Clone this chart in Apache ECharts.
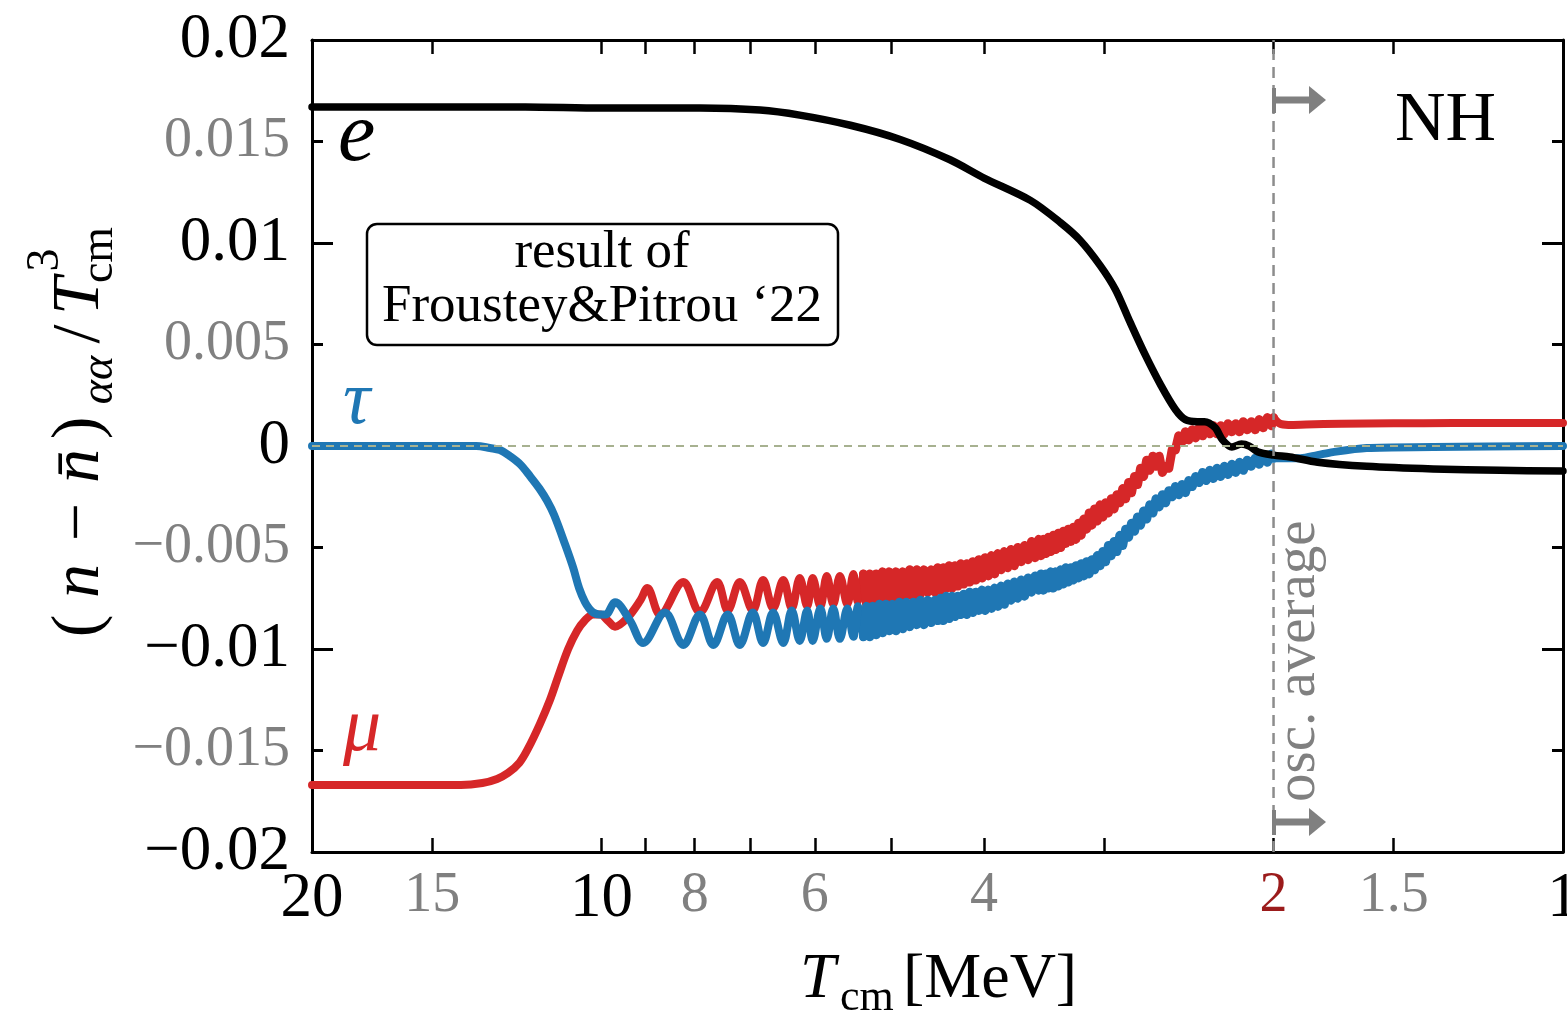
<!DOCTYPE html>
<html>
<head>
<meta charset="utf-8">
<script src="https://cdn.jsdelivr.net/npm/echarts@6/dist/echarts.min.js"></script>
<style>html,body{margin:0;padding:0;background:#fff;overflow:hidden;}#c{width:1567px;height:1021px;}</style>
</head>
<body>
<div id="c"></div>
<script>
// ---------------- data ----------------
const xTickValues = [20, 15, 10, 9, 8, 7, 6, 5, 4, 3, 2, 1.5, 1];
const xTickLabels = [20, 15, 10, 8, 6, 4, 2, 1.5, 1];
const xMajorLabels = [20, 10, 1];
const xRedLabels = [2];
const yTickLabels = [-0.02, -0.015, -0.01, -0.005, 0, 0.005, 0.01, 0.015, 0.02];

// electron flavour (black)
const eT = [20, 15, 12, 10, 7.9, 6.84, 6.22, 5.51, 4.89, 4.34, 4.0, 3.58, 3.33, 3.18, 3.03, 2.92, 2.82, 2.72, 2.62, 2.53, 2.47, 2.40, 2.36, 2.30, 2.26, 2.21, 2.16, 2.12, 2.075, 2.0, 1.923, 1.80, 1.60, 1.365, 1.163, 1.0];
const eV = [0.0167, 0.0167, 0.0167, 0.01665, 0.01665, 0.01655, 0.0163, 0.0158, 0.0151, 0.0141, 0.0132, 0.0121, 0.0110, 0.01015, 0.0089, 0.0077, 0.0061, 0.0045, 0.0030, 0.0018, 0.0013, 0.0012, 0.0012, 0.0009, 0.0003, -0.00005, 0.0001, 0.0, -0.0003, -0.00045, -0.00054, -0.0008, -0.001, -0.00113, -0.0012, -0.00123];

// shared temperature grid of the fast-oscillating stretch
const oscT = [5.34, 5.30, 5.26, 5.22, 5.18, 5.14, 5.10, 5.06, 5.02, 4.98, 4.94, 4.90, 4.86, 4.82, 4.78, 4.74, 4.70, 4.66, 4.62, 4.58, 4.54, 4.50,
  4.47, 4.44, 4.41, 4.38, 4.35, 4.32, 4.29, 4.26, 4.23, 4.20, 4.17, 4.14, 4.11, 4.08, 4.05, 4.02, 3.99, 3.96, 3.93, 3.90, 3.87, 3.84, 3.81, 3.78, 3.75, 3.72, 3.69, 3.66, 3.63, 3.60, 3.57, 3.54, 3.51,
  3.49, 3.47, 3.45, 3.43, 3.41, 3.39, 3.37, 3.35, 3.33, 3.31, 3.29, 3.27, 3.25, 3.23, 3.21, 3.19, 3.17, 3.15, 3.13, 3.11, 3.09, 3.07, 3.05, 3.03, 3.01, 2.99, 2.97, 2.95, 2.93, 2.91, 2.89, 2.87, 2.85, 2.83, 2.81, 2.79, 2.77, 2.75, 2.73, 2.71, 2.69, 2.67, 2.65, 2.63, 2.61,
  2.59, 2.57, 2.55, 2.53, 2.51, 2.49, 2.47, 2.45, 2.43, 2.41, 2.39, 2.37, 2.35, 2.33, 2.31, 2.29, 2.27, 2.25, 2.23, 2.21, 2.19, 2.17, 2.15, 2.13, 2.11, 2.09, 2.07, 2.05, 2.03, 2.01, 2.0];

// tau flavour (blue)
const tauEarlyT = [20, 17, 15, 14, 13.5, 13.06, 12.75, 12.45, 12.15, 11.86, 11.6, 11.39, 11.2, 10.9, 10.7, 10.55, 10.4, 10.3, 10.2, 10.05, 9.9, 9.68, 9.34, 9.05, 8.59, 8.22, 7.90, 7.65, 7.39, 7.18, 6.96, 6.79, 6.63, 6.47, 6.34, 6.22, 6.11, 6.03, 5.92, 5.83, 5.74, 5.65, 5.55, 5.47, 5.41, 5.34];
const tauEarlyV = [0, 0, 0, 0, 0, -0.0001, -0.0002, -0.0005, -0.0009, -0.0015, -0.0021, -0.0027, -0.0034, -0.0049, -0.0060, -0.0070, -0.0077, -0.0080, -0.0082, -0.0083, -0.0083, -0.0077, -0.0086, -0.0097, -0.0082, -0.0098, -0.0083, -0.0098, -0.0083, -0.0098, -0.0082, -0.0097, -0.0082, -0.0097, -0.0081, -0.0096, -0.0081, -0.0096, -0.0080, -0.0095, -0.0080, -0.0095, -0.0080, -0.0094, -0.0079, -0.0094];
const tauOscV = [-0.0094, -0.0079, -0.0094, -0.0079, -0.0093, -0.0078, -0.0092, -0.0078, -0.0091, -0.0078, -0.0091, -0.0077, -0.0090, -0.0077, -0.0089, -0.0077, -0.0088, -0.0076, -0.0088, -0.0076, -0.0087, -0.0076,
  -0.0086, -0.0075, -0.0086, -0.0074, -0.0085, -0.0074, -0.0084, -0.0074, -0.0083, -0.0073, -0.0083, -0.0072, -0.0082, -0.0072, -0.0081, -0.0071, -0.0081, -0.0071, -0.0080, -0.0070, -0.0079, -0.0069, -0.0078, -0.0068, -0.0076, -0.0067, -0.0075, -0.0066, -0.0074, -0.0065, -0.0072, -0.0064, -0.0071,
  -0.0063, -0.0071, -0.0063, -0.0070, -0.0062, -0.0070, -0.0062, -0.0069, -0.0061, -0.0068, -0.0060, -0.0067, -0.0060, -0.0066, -0.0059, -0.0065, -0.0058, -0.0064, -0.0057, -0.0063, -0.0056, -0.0061, -0.0054, -0.0059, -0.0052, -0.0057, -0.0049, -0.0054, -0.0047, -0.0052, -0.0044, -0.0049, -0.0041, -0.0045, -0.0038, -0.0042, -0.0035, -0.0039, -0.0032, -0.0036, -0.0029, -0.0033, -0.0026, -0.0030, -0.0024,
  -0.0028, -0.0022, -0.0025, -0.0020, -0.0024, -0.0019, -0.0023, -0.0017, -0.0020, -0.0015, -0.0018, -0.0013, -0.0017, -0.0012, -0.0016, -0.0011, -0.0015, -0.0010, -0.0014, -0.0009, -0.0013, -0.0008, -0.0012, -0.0007, -0.0010, -0.0006, -0.0009, -0.0005, -0.0008, -0.0004, -0.0006];
const tauLateT = [2.0, 1.95, 1.876, 1.80, 1.735, 1.60, 1.365, 1.2, 1.0];
const tauLateV = [-0.0006, -0.0006, -0.0006, -0.00045, -0.0003, -0.0001, -0.00005, -0.00002, 0];

// mu flavour (red)
const muEarlyT = [20, 17, 15, 14, 13.3, 12.84, 12.5, 12.17, 11.92, 11.59, 11.31, 11.1, 10.83, 10.6, 10.41, 10.2, 10.03, 9.85, 9.68, 9.41, 9.11, 8.96, 8.69, 8.22, 7.90, 7.58, 7.39, 7.18, 6.96, 6.79, 6.63, 6.47, 6.34, 6.22, 6.11, 6.03, 5.92, 5.83, 5.74, 5.65, 5.55, 5.47, 5.41, 5.34];
const muEarlyV = [-0.0167, -0.0167, -0.0167, -0.0167, -0.0166, -0.0164, -0.0161, -0.0156, -0.0149, -0.0137, -0.0125, -0.0114, -0.0100, -0.0091, -0.0086, -0.0083, -0.0083, -0.0086, -0.0089, -0.0085, -0.0076, -0.0070, -0.0083, -0.0067, -0.0082, -0.0067, -0.0081, -0.0067, -0.0081, -0.0066, -0.0080, -0.0066, -0.0080, -0.0065, -0.0079, -0.0065, -0.0079, -0.0064, -0.0078, -0.0064, -0.0078, -0.0063, -0.0077, -0.0063];
const muOscV = [-0.0063, -0.0078, -0.0063, -0.0077, -0.0063, -0.0077, -0.0062, -0.0076, -0.0062, -0.0075, -0.0062, -0.0075, -0.0062, -0.0074, -0.0061, -0.0074, -0.0061, -0.0073, -0.0061, -0.0072, -0.0061, -0.0072,
  -0.0060, -0.0071, -0.0060, -0.0070, -0.0059, -0.0070, -0.0059, -0.0069, -0.0058, -0.0068, -0.0058, -0.0067, -0.0057, -0.0066, -0.0056, -0.0065, -0.0055, -0.0064, -0.0054, -0.0063, -0.0053, -0.0061, -0.0052, -0.0060, -0.0051, -0.0059, -0.0050, -0.0057, -0.0049, -0.0056, -0.0047, -0.0055, -0.0046,
  -0.0054, -0.0046, -0.0053, -0.0045, -0.0052, -0.0044, -0.0051, -0.0043, -0.0050, -0.0042, -0.0048, -0.0041, -0.0047, -0.0040, -0.0046, -0.0038, -0.0044, -0.0036, -0.0041, -0.0033, -0.0039, -0.0031, -0.0037, -0.0029, -0.0035, -0.0028, -0.0033, -0.0026, -0.0031, -0.0024, -0.0028, -0.0021, -0.0026, -0.0018, -0.0023, -0.0015, -0.0019, -0.0011, -0.0015, -0.0007, -0.0012, -0.0005, -0.0010, -0.0005, -0.0013,
  -0.0010, -0.0011, -0.0002, -0.0002, 0.0005, 0.0002, 0.0007, 0.0003, 0.0008, 0.0004, 0.0009, 0.0005, 0.0009, 0.0006, 0.0010, 0.0006, 0.0010, 0.0006, 0.0011, 0.0007, 0.0011, 0.0007, 0.0012, 0.0008, 0.0012, 0.0008, 0.0013, 0.0009, 0.0014, 0.0010, 0.0014];
const muLateT = [2.0, 1.97, 1.93, 1.85, 1.7, 1.5, 1.3, 1.0];
const muLateV = [0.0014, 0.0011, 0.00104, 0.00106, 0.0011, 0.00112, 0.00113, 0.00113];

// reference lines
const zeroLineT = [20, 1];
const zeroLineV = [0, 0];
const oscLineT = [2, 2];
const oscLineV = [-0.02, 0.02];

// ---------------- chart ----------------
const FONT = '"Liberation Serif","DejaVu Serif",serif';
const BLUE = '#1f77b4', RED = '#d62728';
const zip = (a, b) => a.map((t, i) => [t, b[i]]);

function txt(x, y, s, size, extra) {
  return {
    type: 'text', x: x, y: y, z: 100,
    style: Object.assign({text: s, fontSize: size, fontFamily: FONT, fill: '#000', align: 'left', verticalAlign: 'middle'}, extra || {})
  };
}
function curve(data, color, width, smooth, z) {
  return {type: 'line', data: data, xAxisIndex: 0, yAxisIndex: 0, showSymbol: false, smooth: smooth, z: z,
    lineStyle: {color: color, width: width, cap: 'round', join: 'round'}};
}

const xLabelRich = {
  b: {fontSize: 63, color: '#000', fontFamily: FONT},
  g: {fontSize: 56, color: '#808080', fontFamily: FONT},
  r: {fontSize: 56, color: '#9b1b1b', fontFamily: FONT}
};
function xFmt(v) {
  const s = String(+v.toFixed(3));
  if (xMajorLabels.indexOf(+s) >= 0) return '{b|' + s + '}';
  if (xRedLabels.indexOf(+s) >= 0) return '{r|' + s + '}';
  return '{g|' + s + '}';
}
function yFmt(v) {
  const r = Math.round(v * 1000);
  const s = r === 0 ? '0' : (r < 0 ? '\u2212' : '') + String(Math.abs(r) / 1000);
  return (Math.abs(r) % 10 === 0) ? '{b|' + s + '}' : '{g|' + s + '}';
}

const baseX = {
  type: 'log', logBase: 10, min: 1, max: 20, inverse: true,
  axisLine: {show: true, onZero: false, lineStyle: {color: '#000', width: 3}},
  axisTick: {show: true, inside: true, length: 14, customValues: xTickValues, lineStyle: {color: '#000', width: 2.5}},
  minorTick: {show: false}, splitLine: {show: false}, minorSplitLine: {show: false}
};
const baseY = {
  type: 'value', min: -0.02, max: 0.02, interval: 0.01,
  axisLine: {show: true, onZero: false, lineStyle: {color: '#000', width: 3}},
  axisTick: {show: true, inside: true, length: 21, lineStyle: {color: '#000', width: 3}},
  minorTick: {show: true, splitNumber: 2, length: 11, lineStyle: {color: '#000', width: 3}},
  splitLine: {show: false}, minorSplitLine: {show: false}
};

const chart = echarts.init(document.getElementById('c'), null, {renderer: 'canvas', width: 1567, height: 1021});
chart.setOption({
  animation: false,
  backgroundColor: '#fff',
  grid: {left: 312, right: 4, top: 40, bottom: 169, containLabel: false, outerBoundsMode: 'none'},
  xAxis: [
    Object.assign({}, baseX, {position: 'bottom', axisLabel: {show: true, customValues: xTickLabels, margin: 16, formatter: xFmt, rich: xLabelRich, hideOverlap: false}}),
    Object.assign({}, baseX, {position: 'top', axisLabel: {show: false}})
  ],
  yAxis: [
    Object.assign({}, baseY, {position: 'left', axisLabel: {show: true, customValues: yTickLabels, margin: 22, formatter: yFmt,
      rich: {b: {fontSize: 63, color: '#000', fontFamily: FONT}, g: {fontSize: 56, color: '#808080', fontFamily: FONT}}}}),
    Object.assign({}, baseY, {position: 'right', axisLabel: {show: false}})
  ],
  series: [
    curve(zip(muEarlyT, muEarlyV), RED, 8, 0.35, 2),
    curve(zip(oscT, muOscV), RED, 9, false, 2),
    curve(zip(muLateT, muLateV), RED, 8, 0.3, 2),
    curve(zip(tauEarlyT, tauEarlyV), BLUE, 8, 0.35, 3),
    curve(zip(oscT, tauOscV), BLUE, 9, false, 3),
    curve(zip(tauLateT, tauLateV), BLUE, 8, 0.3, 3),
    curve(zip(eT, eV), '#000', 7.5, 0.3, 4),
    {type: 'line', data: zip(zeroLineT, zeroLineV), xAxisIndex: 0, yAxisIndex: 0, showSymbol: false, z: 5,
      lineStyle: {color: '#a7b190', width: 2, type: [8, 6]}},
    {type: 'line', data: zip(oscLineT, oscLineV), xAxisIndex: 0, yAxisIndex: 0, showSymbol: false, z: 5,
      lineStyle: {color: '#8c8c8c', width: 2.5, type: [11, 7]}}
  ],
  graphic: [
    // y-axis title, rotated
    {type: 'group', x: 102, y: 648, rotation: Math.PI / 2, z: 100, children: [
      txt(22, -22, '(', 68, {align: 'center'}),
      txt(67, -22, 'n', 68, {align: 'center', fontStyle: 'italic'}),
      txt(126, -22, '\u2212', 68, {align: 'center'}),
      txt(182, -22, 'n\u0304', 68, {align: 'center', fontStyle: 'italic'}),
      txt(220, -22, ')', 68, {align: 'center'}),
      txt(268, -2, '\u03b1\u03b1', 46, {align: 'center', fontStyle: 'italic'}),
      txt(314, -22, '/', 68, {align: 'center'}),
      txt(352, -22, 'T', 68, {align: 'center', fontStyle: 'italic'}),
      txt(388, -56, '3', 46, {align: 'center'}),
      txt(393, -2, 'cm', 46, {align: 'center'})
    ]},
    // x-axis title
    txt(800, 980, 'T', 64, {fontStyle: 'italic'}),
    txt(840, 998, 'cm', 44),
    txt(903, 980, '[MeV]', 64),
    // curve labels
    txt(338, 138, 'e', 84, {fontStyle: 'italic'}),
    txt(343, 403, '\u03c4', 76, {fontStyle: 'italic', fill: BLUE}),
    txt(343, 730, '\u03bc', 76, {fontStyle: 'italic', fill: RED}),
    txt(1395, 122, 'NH', 70),
    // box
    {type: 'rect', z: 99, shape: {x: 367, y: 224, width: 471, height: 121, r: 10}, style: {fill: '#fff', stroke: '#000', lineWidth: 2.5}},
    txt(602, 253, 'result of', 53, {align: 'center'}),
    txt(602, 307, 'Froustey&Pitrou \u201822', 53, {align: 'center'}),
    // osc. average
    {type: 'group', x: 1318, y: 802, rotation: Math.PI / 2, z: 100, children: [
      txt(0, -19, 'osc. average', 57, {fill: '#808080'})
    ]},
    // arrows
    {type: 'rect', z: 100, shape: {x: 1272, y: 88, width: 4, height: 25}, style: {fill: '#808080'}},
    {type: 'rect', z: 100, shape: {x: 1273, y: 96.5, width: 40, height: 7}, style: {fill: '#808080'}},
    {type: 'polygon', z: 100, shape: {points: [[1309, 86], [1326, 100], [1309, 114]]}, style: {fill: '#808080'}},
    {type: 'rect', z: 100, shape: {x: 1272, y: 810, width: 4, height: 25}, style: {fill: '#808080'}},
    {type: 'rect', z: 100, shape: {x: 1273, y: 818.5, width: 40, height: 7}, style: {fill: '#808080'}},
    {type: 'polygon', z: 100, shape: {points: [[1309, 808], [1326, 822], [1309, 836]]}, style: {fill: '#808080'}}
  ]
});
</script>
</body>
</html>
